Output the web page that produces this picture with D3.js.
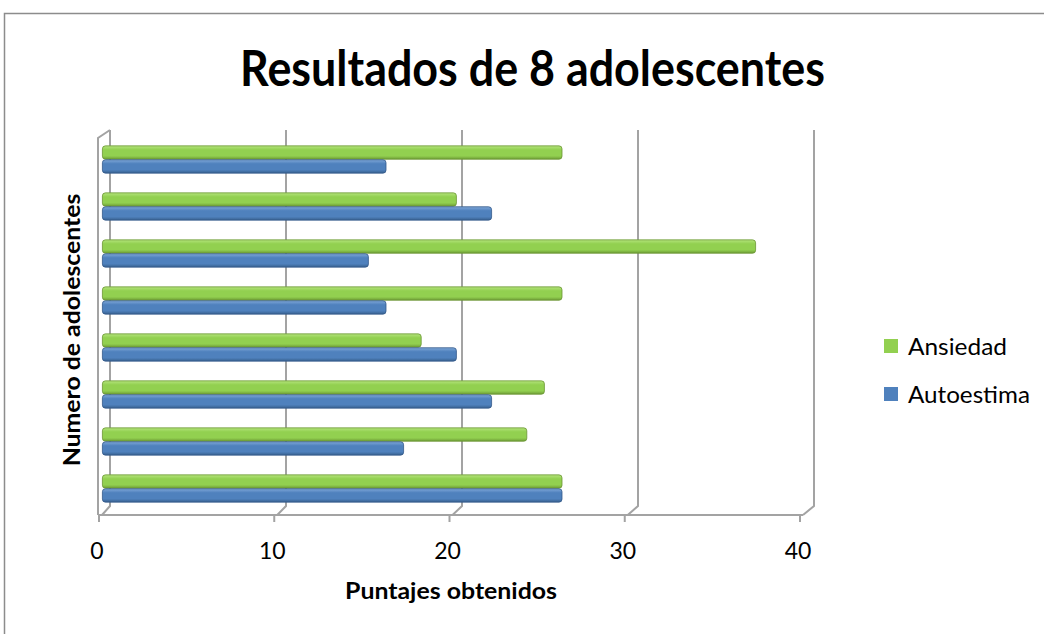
<!DOCTYPE html>
<html>
<head>
<meta charset="utf-8">
<script src="https://cdn.jsdelivr.net/npm/d3@7"></script>
<style>
  body { margin: 0; background: #ffffff; }
  svg { display: block; }
</style>
</head>
<body>
<svg id="chart" width="1044" height="634"></svg>
<script>
// Scores of 8 teenagers (category 1 is drawn at the bottom)
const categories = ["1", "2", "3", "4", "5", "6", "7", "8"];
const seriesNames = ["Ansiedad", "Autoestima"];
const ansiedad = [26, 24, 25, 18, 26, 37, 20, 26];
const autoestima = [26, 17, 22, 20, 16, 15, 22, 16];
const xTicks = [0, 10, 20, 30, 40];

const rows = categories.map((c, i) => ({ cat: c, Ansiedad: ansiedad[i], Autoestima: autoestima[i] }));

const svg = d3.select("#chart");
const FONT = "Lato, 'Open Sans', 'DejaVu Sans', sans-serif";

// chart frame
svg.append("rect")
  .attr("x", 4.5).attr("y", 13.5).attr("width", 1100).attr("height", 700)
  .attr("fill", "#fff").attr("stroke", "#8c8c8c").attr("stroke-width", 1.5);

// 3D layout: back wall, front edge, bar plane
const backTop = 130, backBottom = 506, floorY = 515;
const xBack = d3.scaleLinear().domain([0, 40]).range([110, 814]);
const xFront = d3.scaleLinear().domain([0, 40]).range([99, 800]);
const xBar = d3.scaleLinear().domain([0, 40]).range([104.4, 808.4]);

const y0 = d3.scaleBand().domain(categories).range([512, 136])
  .paddingInner(0.42).paddingOuter(0.21);
const y1 = d3.scaleBand().domain(seriesNames).range([0, y0.bandwidth()]).paddingInner(0.04);

const grid = svg.append("g").attr("fill", "none").attr("stroke", "#a3a3a3").attr("stroke-width", 2);

// back-wall gridlines dropping to the floor's front edge
grid.selectAll("path.gl").data(xTicks).join("path").attr("class", "gl")
  .attr("d", v => `M${xBack(v)},${backTop} V${backBottom} L${xFront(v) + 3},${floorY}`);

// left side wall
grid.append("path")
  .attr("d", `M${xBack(0)},${backTop} L${xFront(0) - 1},${backTop + 8} V${floorY}`);

// front floor edge with tick marks
grid.append("path").attr("d", `M${xFront(0) - 1},${floorY} H${xFront(40) + 3}`);
grid.selectAll("path.tk").data(xTicks).join("path").attr("class", "tk")
  .attr("d", v => `M${xFront(v)},${floorY} V${floorY + 7}`);

// bar gradients
const defs = svg.append("defs");
const palette = {
  Ansiedad:   { light: "#b4e47c", mid: "#92d050", dark: "#6e9c36", stroke: "#6b9634" },
  Autoestima: { light: "#7fa7d8", mid: "#4f81bd", dark: "#38618f", stroke: "#33598a" }
};
seriesNames.forEach((s, i) => {
  const g = defs.append("linearGradient").attr("id", "grad" + i)
    .attr("x1", 0).attr("y1", 0).attr("x2", 0).attr("y2", 1);
  g.append("stop").attr("offset", "0%").attr("stop-color", palette[s].light);
  g.append("stop").attr("offset", "30%").attr("stop-color", palette[s].mid);
  g.append("stop").attr("offset", "75%").attr("stop-color", palette[s].mid);
  g.append("stop").attr("offset", "100%").attr("stop-color", palette[s].dark);
});

// bars
const groups = svg.append("g").selectAll("g").data(rows).join("g")
  .attr("transform", d => `translate(0,${y0(d.cat)})`);
groups.selectAll("rect").data(d => seriesNames.map((s, i) => ({ s, i, v: d[s] }))).join("rect")
  .attr("x", xBar(0) - 2)
  .attr("y", d => y1(d.s))
  .attr("width", d => xBar(d.v) - xBar(0) + 2)
  .attr("height", y1.bandwidth())
  .attr("rx", 3)
  .attr("fill", d => `url(#grad${d.i})`)
  .attr("stroke", d => palette[d.s].stroke)
  .attr("stroke-width", 0.8);

// helper: set text horizontally to a given width
function fitText(sel, cx, cy, width, rotate) {
  const w = sel.node().getComputedTextLength();
  const s = Math.min(1.2, width / w);
  sel.attr("transform", `translate(${cx},${cy})${rotate ? " rotate(-90)" : ""} scale(${s},1)`);
}

// title
const title = svg.append("text")
  .attr("text-anchor", "middle").attr("font-family", FONT).attr("font-weight", 700)
  .attr("font-size", 49).attr("fill", "#000").text("Resultados de 8 adolescentes");
fitText(title, 532.5, 86, 585);

// x tick labels
svg.append("g").selectAll("text").data(xTicks).join("text")
  .attr("x", v => xFront(v) - 2).attr("y", 559)
  .attr("text-anchor", "middle").attr("font-family", FONT).attr("font-size", 23)
  .attr("fill", "#000").text(v => v);

// axis titles
const xTitle = svg.append("text")
  .attr("text-anchor", "middle").attr("font-family", FONT).attr("font-weight", 700)
  .attr("font-size", 22).attr("fill", "#000").text("Puntajes obtenidos");
fitText(xTitle, 451, 599, 212);

const yTitle = svg.append("text")
  .attr("text-anchor", "middle").attr("font-family", FONT).attr("font-weight", 700)
  .attr("font-size", 22).attr("fill", "#000").text("Numero de adolescentes");
fitText(yTitle, 80, 330, 273, true);

// legend
const legend = svg.append("g").selectAll("g").data(seriesNames).join("g")
  .attr("transform", (d, i) => `translate(884,${339 + i * 48})`);
legend.append("rect").attr("width", 14).attr("height", 14)
  .attr("fill", d => palette[d].mid);
legend.append("text")
  .attr("font-family", FONT).attr("font-size", 23).attr("fill", "#000").text(d => d)
  .each(function (d) {
    fitText(d3.select(this), 24, 16, d === "Ansiedad" ? 99 : 122);
  });
</script>
</body>
</html>
